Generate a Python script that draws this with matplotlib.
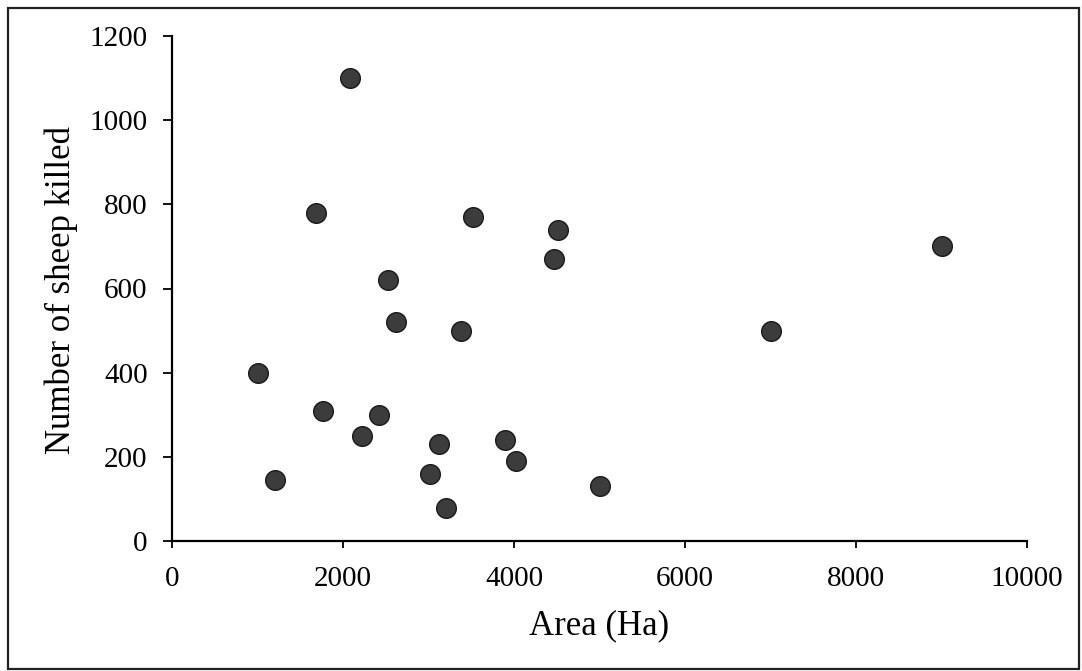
import matplotlib as mpl
import matplotlib.pyplot as plt
from matplotlib.patches import Rectangle

# area (Ha) and sheep killed
area_ha = [2080, 1680, 2530, 3520, 4520, 4470, 9000, 2620, 1010, 1770,
           2420, 2220, 3120, 3020, 3200, 1210, 3380, 3900, 4020, 5000, 7000]
sheep_killed = [1100, 780, 620, 770, 740, 670, 700, 520, 400, 310,
                300, 250, 230, 160, 78, 145, 500, 240, 190, 130, 500]

x_ticks = [0, 2000, 4000, 6000, 8000, 10000]
y_ticks = [0, 200, 400, 600, 800, 1000, 1200]

mpl.rcParams.update(
    {
        "font.family": ["Liberation Serif", "DejaVu Serif"],
        "font.size": 21,
    }
)

fig = plt.figure(figsize=(10.82, 6.71), dpi=100)
ax = fig.add_axes([172 / 1082, 1 - 541 / 671, (1027 - 172) / 1082, (541 - 36) / 671])

ax.scatter(area_ha, sheep_killed, s=200, color="#3c3c3c", edgecolors="#1a1a1a",
           linewidths=1.0, zorder=3, clip_on=False)

ax.set_xlim(0, 10000)
ax.set_ylim(0, 1200)
ax.set_xticks(x_ticks)
ax.set_yticks(y_ticks)
for side in ["top", "right"]:
    ax.spines[side].set_visible(False)
for side in ["left", "bottom"]:
    ax.spines[side].set_linewidth(1.6)
    ax.spines[side].set_color("black")
ax.tick_params(axis="x", direction="out", length=5, width=1.3, pad=13, labelsize=21)
ax.tick_params(axis="y", direction="out", length=6.5, width=1.3, pad=11, labelsize=21)

fig.text(61 / 1082, 1 - 290 / 671, "Number of sheep killed", rotation=90,
         ha="center", va="center", fontsize=25)
fig.text(599 / 1082, 1 - 626 / 671, "Area (Ha)", ha="center", va="center", fontsize=25)

# outer frame around the whole chart
fig.patches.append(Rectangle((8 / 1082, 1 - 669 / 671), (1079 - 8) / 1082, (669 - 8) / 671,
                             transform=fig.transFigure, fill=False,
                             edgecolor="#222222", linewidth=1.6))

fig.savefig("out.png", dpi=100)
